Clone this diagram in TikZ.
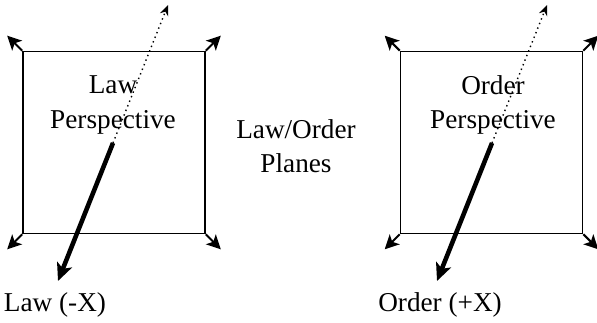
\documentclass[tikz,border=0pt]{standalone}
\usepackage{fontspec}
\setmainfont{Liberation Serif}
\usetikzlibrary{arrows.meta,positioning}

\begin{document}
\begin{tikzpicture}[
    x=0.02cm, y=-0.02cm,
    plane/.style={draw, line width=0.9pt, minimum size=3.64cm, inner sep=0pt},
    corner/.style={-{Stealth[length=8pt,width=8pt,inset=2pt]}, line width=1.2pt},
    axis/.style={-{Stealth[length=10pt,width=9pt,inset=2.5pt]}, line width=2.6pt},
    hidden/.style={-{Stealth[length=6pt,width=5pt]}, dotted, line width=0.8pt},
    lbl/.style={font=\fontsize{15.5}{19.5}\selectfont, align=center, inner sep=0pt}
]
\useasboundingbox (0,0) rectangle (597,323);

% Law plane
\node[plane] (lawbox) at (114,142.5) {};
\node[lbl] (lawtext) at (113,105) {Law\\Perspective};
\foreach \a/\dx/\dy in {north west/-15/-15, north east/15/-15, south west/-15/15, south east/15/15}
    \draw[corner] (lawbox.\a) -- ++(\dx,\dy);
\coordinate (lawO) at (113,143);
\coordinate (lawup) at (168,5);
\coordinate (lawdown) at (58,281);
\draw[hidden] (lawO) -- (lawup);
\draw[axis] (lawO) -- (lawdown);
\node[lbl] (lawlabel) at (55,305) {Law (-X)};

% middle caption
\node[lbl] (planes) at (296,146) {Law/Order\\Planes};

% Order plane
\node[plane] (orderbox) at (491.5,142.5) {};
\node[lbl] (ordertext) at (493,105) {Order\\Perspective};
\foreach \a/\dx/\dy in {north west/-15/-15, north east/15/-15, south west/-15/15, south east/15/15}
    \draw[corner] (orderbox.\a) -- ++(\dx,\dy);
\coordinate (orderO) at (492,143);
\coordinate (orderup) at (547,5);
\coordinate (orderdown) at (437,281);
\draw[hidden] (orderO) -- (orderup);
\draw[axis] (orderO) -- (orderdown);
\node[lbl] (orderlabel) at (440,305) {Order (+X)};
\end{tikzpicture}
\end{document}
